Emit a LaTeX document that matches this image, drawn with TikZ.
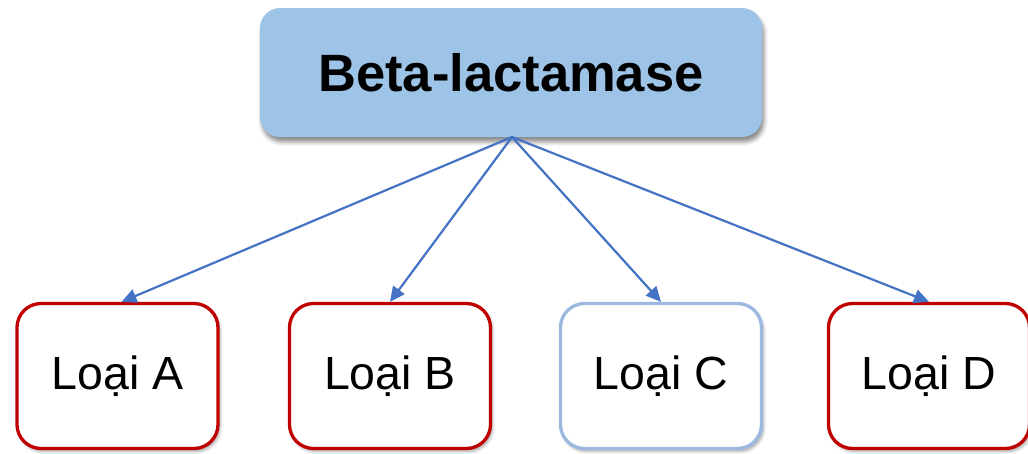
\documentclass[tikz,border=0pt]{standalone}
\usepackage{fontspec}
\setmainfont{Liberation Sans}
\usetikzlibrary{shadows.blur,arrows.meta}
\definecolor{topfill}{HTML}{9DC3E6}
\definecolor{redb}{HTML}{C00000}
\definecolor{lblue}{HTML}{9DB8E0}
\definecolor{arrowc}{HTML}{4472C4}
\begin{document}
\begin{tikzpicture}[x=1pt,y=-1pt,
  topbox/.style={rectangle, rounded corners=20pt, fill=topfill, minimum width=502pt, minimum height=129pt,
    font=\fontsize{52.5}{60}\selectfont\bfseries, inner sep=0pt,
    blur shadow={shadow xshift=2pt, shadow yshift=-5pt, shadow blur radius=4pt, shadow opacity=45}},
  typebox/.style={rectangle, rounded corners=24pt, fill=white, line width=3.3pt, minimum width=201pt, minimum height=145pt,
    font=\fontsize{46.5}{54}\selectfont, inner sep=0pt,
    blur shadow={shadow xshift=2pt, shadow yshift=-3pt, shadow blur radius=3pt, shadow opacity=35}},
  conn/.style={draw=arrowc, line width=2.2pt, -{Triangle[length=15pt,width=14pt]}}
]
\useasboundingbox (0,0) rectangle (1028,453);
\node[topbox] (top) at (511,72.5) {Beta-lactamase};
\node[typebox, draw=redb] (a) at (117.5,376) {Loại A};
\node[typebox, draw=redb] (b) at (390,376) {Loại B};
\node[typebox, draw=lblue] (c) at (661,376) {Loại C};
\node[typebox, draw=redb] (d) at (929,376) {Loại D};
\coordinate (src) at (512,137);
\draw[conn] (src) -- ([xshift=4pt]a.north);
\draw[conn] (src) -- (b.north);
\draw[conn] (src) -- (c.north);
\draw[conn] (src) -- (d.north);
\end{tikzpicture}
\end{document}
